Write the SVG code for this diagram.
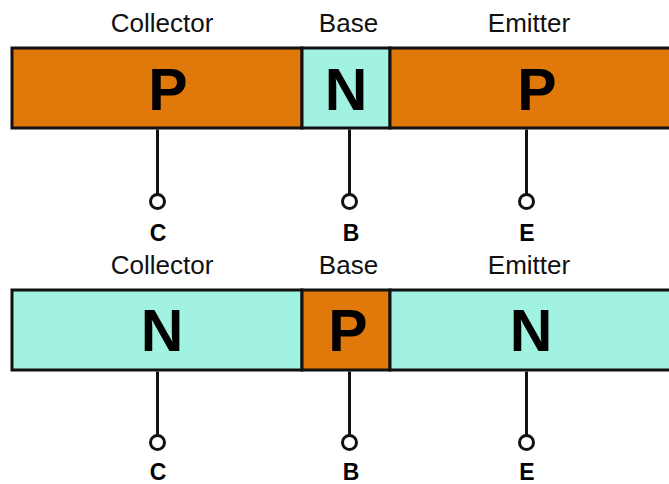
<svg xmlns="http://www.w3.org/2000/svg" width="669" height="484" viewBox="0 0 669 484">
<style>
.p{fill:#E0780A;stroke:#111;stroke-width:3}
.n{fill:#A2F2E2;stroke:#111;stroke-width:3}
.lbl{font-family:"Liberation Sans",Arial,sans-serif;font-size:26px;fill:#111;text-anchor:middle}
.big{font-family:"Liberation Sans",Arial,sans-serif;font-size:59px;font-weight:bold;fill:#000;text-anchor:middle}
.term{font-family:"Liberation Sans",Arial,sans-serif;font-size:23px;font-weight:bold;fill:#000;text-anchor:middle}
.wire{stroke:#111;stroke-width:3;fill:none}
.pin{fill:#fff;stroke:#111;stroke-width:3}
</style>
<rect width="669" height="484" fill="#fff"/>
<g id="pnp">
  <g id="pnp-collector">
    <text class="lbl" x="162" y="32">Collector</text>
    <rect class="p" x="12" y="48" width="290" height="80"/>
    <text class="big" x="168" y="109.5">P</text>
  </g>
  <g id="pnp-base">
    <text class="lbl" x="348.5" y="32">Base</text>
    <rect class="n" x="302" y="48" width="88" height="80"/>
    <text class="big" x="346" y="109.5">N</text>
  </g>
  <g id="pnp-emitter">
    <text class="lbl" x="529" y="32">Emitter</text>
    <rect class="p" x="390" y="48" width="290" height="80"/>
    <text class="big" x="537" y="109.5">P</text>
  </g>
  <g id="pnp-connectors">
    <line class="wire" x1="157.5" y1="129.5" x2="157.5" y2="194"/>
    <line class="wire" x1="349.5" y1="129.5" x2="349.5" y2="194"/>
    <line class="wire" x1="526.5" y1="129.5" x2="526.5" y2="194"/>
  </g>
  <g id="pnp-terminals">
    <circle class="pin" cx="157.5" cy="201.5" r="7"/>
    <circle class="pin" cx="349.5" cy="201.5" r="7"/>
    <circle class="pin" cx="526.5" cy="201.5" r="7"/>
    <text class="term" x="158" y="240.5">C</text>
    <text class="term" x="351" y="240.5">B</text>
    <text class="term" x="527" y="240.5">E</text>
  </g>
</g>
<g id="npn">
  <g id="npn-collector">
    <text class="lbl" x="162" y="273.5">Collector</text>
    <rect class="n" x="12" y="290" width="290" height="80"/>
    <text class="big" x="162" y="350.5">N</text>
  </g>
  <g id="npn-base">
    <text class="lbl" x="348.5" y="273.5">Base</text>
    <rect class="p" x="302" y="290" width="88" height="80"/>
    <text class="big" x="348" y="350.5">P</text>
  </g>
  <g id="npn-emitter">
    <text class="lbl" x="529" y="273.5">Emitter</text>
    <rect class="n" x="390" y="290" width="290" height="80"/>
    <text class="big" x="531" y="350.5">N</text>
  </g>
  <g id="npn-connectors">
    <line class="wire" x1="157.5" y1="371.5" x2="157.5" y2="435"/>
    <line class="wire" x1="349.5" y1="371.5" x2="349.5" y2="435"/>
    <line class="wire" x1="526.5" y1="371.5" x2="526.5" y2="435"/>
  </g>
  <g id="npn-terminals">
    <circle class="pin" cx="157.5" cy="442.5" r="7"/>
    <circle class="pin" cx="349.5" cy="442.5" r="7"/>
    <circle class="pin" cx="526.5" cy="442.5" r="7"/>
    <text class="term" x="158" y="480">C</text>
    <text class="term" x="351" y="480">B</text>
    <text class="term" x="527" y="480">E</text>
  </g>
</g>
</svg>
